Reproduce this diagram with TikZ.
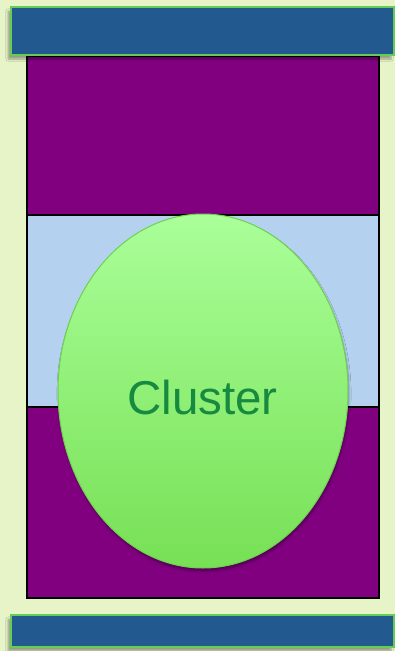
\documentclass[tikz,border=0pt]{standalone}
\usepackage{fontspec}
\setmainfont{Liberation Sans}
\usetikzlibrary{shadows.blur}
\definecolor{bgc}{HTML}{E6F4C8}
\definecolor{barc}{HTML}{22598F}
\definecolor{barb}{HTML}{66CC55}
\definecolor{purp}{HTML}{800080}
\definecolor{lblue}{HTML}{B4D2F0}
\definecolor{elltop}{HTML}{AAFF99}
\definecolor{ellbot}{HTML}{77E055}
\definecolor{ellb}{HTML}{70D050}
\definecolor{txtc}{HTML}{168A3E}
\begin{document}
\begin{tikzpicture}[x=1pt,y=-1pt,
  bar/.style={draw=barb,line width=2pt,fill=barc,
    blur shadow={shadow xshift=-3pt,shadow yshift=-4pt,shadow opacity=35,shadow blur steps=6}},
  band/.style={draw=black,line width=1.5pt},
  ell/.style={draw=ellb,line width=1pt,top color=elltop,bottom color=ellbot,
    blur shadow={shadow xshift=1pt,shadow yshift=-3pt,shadow opacity=35,shadow blur steps=6}}]
\fill[bgc] (0,0) rectangle (395,651);
\useasboundingbox (0,0) rectangle (395,651);
% outer purple rectangle
\filldraw[band,fill=purp] (27,56) rectangle (379,598);
\filldraw[band,fill=lblue] (27,215) rectangle (379,407);
\draw[band] (27,56) rectangle (379,598);
% bars
\path[bar] (11,7) rectangle (394,55) node[pos=0.5,inner sep=0] (topbar) {};
\path[bar] (11,615) rectangle (394,647) node[pos=0.5,inner sep=0] (botbar) {};
% ellipse
\path[ell] (203,391) ellipse [x radius=145, y radius=177];
\node[text=txtc,font=\fontsize{47.5}{52}\selectfont,inner sep=0] (cluster) at (202.5,398) {Cluster};
\end{tikzpicture}
\end{document}
